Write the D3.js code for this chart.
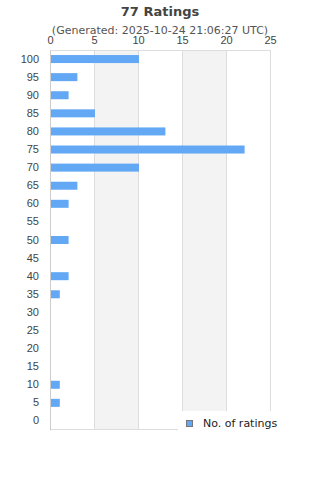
<!DOCTYPE html>
<html>
<head>
<meta charset="utf-8">
<script src="https://cdn.jsdelivr.net/npm/d3@7"></script>
<style>
  body { margin: 0; background: #fff; }
  svg { font-family: "DejaVu Sans", sans-serif; }
</style>
</head>
<body>
<svg id="chart"></svg>
<script>
// ratings buckets, top to bottom
const ratings = ["100", "95", "90", "85", "80", "75", "70", "65", "60", "55", "50",
  "45", "40", "35", "30", "25", "20", "15", "10", "5", "0"];
const counts = [10, 3, 2, 5, 13, 22, 10, 3, 2, 0, 2, 0, 2, 1, 0, 0, 0, 0, 1, 1, 0];
const xTicks = [0, 5, 10, 15, 20, 25];
const title = "77 Ratings";
const subtitle = "(Generated: 2025-10-24 21:06:27 UTC)";
const seriesName = "No. of ratings";

const width = 320, height = 480;
const margin = {top: 50, right: 50, bottom: 50, left: 50};
const innerW = width - margin.left - margin.right;
const innerH = height - margin.top - margin.bottom;

const svg = d3.select('#chart')
  .attr('width', width)
  .attr('height', height);

svg.append('text')
  .attr('x', width / 2).attr('y', 16)
  .attr('text-anchor', 'middle')
  .style('font-size', '13px').style('font-weight', 'bold')
  .attr('fill', '#444')
  .text(title);

svg.append('text')
  .attr('x', width / 2).attr('y', 34)
  .attr('text-anchor', 'middle')
  .style('font-size', '11px')
  .attr('fill', '#555')
  .text(subtitle);

const chart = svg.append('g')
  .attr('transform', `translate(${margin.left}, ${margin.top})`);

const xScale = d3.scaleLinear().domain([0, 25]).range([0, innerW]);
const yScale = d3.scaleBand().domain(ratings).range([0, innerH]);

// alternating bands
const bands = d3.pairs(xTicks).filter((d, i) => i % 2 === 1);
chart.selectAll('.band')
  .data(bands)
  .join('rect')
  .attr('class', 'band')
  .attr('x', d => xScale(d[0]))
  .attr('width', d => xScale(d[1]) - xScale(d[0]))
  .attr('y', 0)
  .attr('height', innerH)
  .attr('fill', '#f3f3f3');

// grid lines
chart.selectAll('.grid')
  .data(xTicks)
  .join('line')
  .attr('class', 'grid')
  .attr('x1', d => xScale(d) + 0.5).attr('x2', d => xScale(d) + 0.5)
  .attr('y1', 0).attr('y2', innerH)
  .attr('stroke', '#ddd');

chart.append('line')
  .attr('x1', 0).attr('x2', innerW)
  .attr('y1', 0.5).attr('y2', 0.5)
  .attr('stroke', '#ddd');
chart.append('line')
  .attr('x1', 0).attr('x2', innerW)
  .attr('y1', innerH - 0.5).attr('y2', innerH - 0.5)
  .attr('stroke', '#ddd');

// bars
const barH = 8;
chart.selectAll('.bar')
  .data(counts.map((c, i) => ({k: ratings[i], v: c})))
  .join('rect')
  .attr('class', 'bar')
  .attr('x', xScale(0) + 1)
  .attr('y', d => yScale(d.k) + yScale.bandwidth() / 2 - barH / 2)
  .attr('width', d => d.v > 0 ? xScale(d.v) - xScale(0) : 0)
  .attr('height', barH)
  .attr('fill', '#62a8f4');

// axes
const xAxis = d3.axisTop(xScale).tickValues(xTicks).tickSize(0).tickPadding(6);
const xg = chart.append('g').call(xAxis);
xg.select('.domain').remove();
xg.selectAll('text').style('font-size', '11px').attr('fill', '#444');

const yAxis = d3.axisLeft(yScale).tickSize(0).tickPadding(11);
const yg = chart.append('g').call(yAxis);
yg.select('.domain').attr('stroke', '#ccc');
yg.selectAll('text').style('font-size', '11px').attr('fill', '#444');

// legend
const legend = svg.append('g').attr('transform', 'translate(178, 411)');
legend.append('rect')
  .attr('width', 142).attr('height', 21)
  .attr('fill', '#fff');
legend.append('rect')
  .attr('x', 8.5).attr('y', 9.5)
  .attr('width', 6).attr('height', 6)
  .attr('fill', '#62a8f4').attr('stroke', '#777');
legend.append('text')
  .attr('x', 25).attr('y', 16)
  .style('font-size', '11px')
  .attr('fill', '#222')
  .text(seriesName);
</script>
</body>
</html>
